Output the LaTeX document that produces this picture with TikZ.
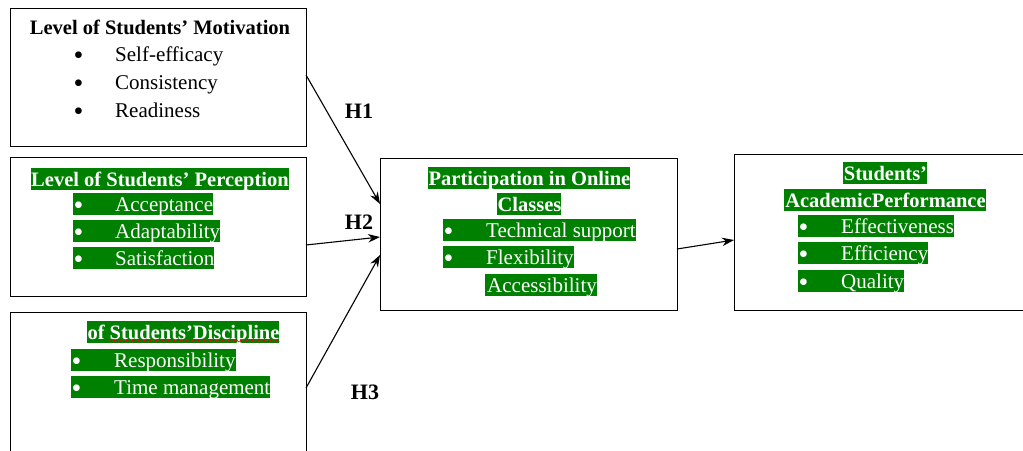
\documentclass[tikz,border=0pt]{standalone}
\usepackage{fontspec}
\setmainfont{Liberation Serif}
\usetikzlibrary{arrows.meta,decorations.pathmorphing}
\definecolor{hlgreen}{RGB}{0,128,0}
\newcommand\mybul{\raisebox{-3.6pt}{\fontsize{28}{24}\selectfont\textbullet}}
\begin{document}
\begin{tikzpicture}[x=1pt,y=-1pt,
  box/.style={draw=black, line width=1.3pt, rectangle, anchor=north west, inner sep=0pt},
  plain/.style={inner sep=0pt, text height=18pt, text depth=4pt, anchor=west, font=\fontsize{21}{24}\selectfont},
  plainb/.style={plain, anchor=center, font=\fontsize{20.5}{24}\selectfont\bfseries},
  hl/.style={fill=hlgreen, text=white, inner sep=0pt, text height=18pt, text depth=4pt, anchor=west, font=\fontsize{21}{24}\selectfont},
  hlb/.style={hl, anchor=center, font=\fontsize{20.5}{24}\selectfont\bfseries},
  arr/.style={line width=1.1pt, -{Stealth[length=12pt,width=8.5pt]}},
  hlab/.style={inner sep=0pt, font=\fontsize{22}{24}\selectfont\bfseries}]
\useasboundingbox (0,0) rectangle (1023,450);
\clip (0,0) rectangle (1023,450);

% boxes
\node[box, minimum width=296pt, minimum height=138pt] (mot) at (10,8) {};
\node[box, minimum width=296pt, minimum height=139pt] (per) at (10,157) {};
\node[box, minimum width=296pt, minimum height=146pt] (dis) at (10,312) {};
\node[box, minimum width=297pt, minimum height=152pt] (par) at (380,158) {};
\node[box, minimum width=300pt, minimum height=156pt] (aca) at (734,154) {};

% motivation
\node[plainb] (motT) at (160,27) {Level of Students’ Motivation};
\node[plain] (mot1) at (73,54) {\makebox[42pt][l]{\hspace{0.5pt}\mybul}Self-efficacy};
\node[plain] (mot2) at (73,82) {\makebox[42pt][l]{\hspace{0.5pt}\mybul}Consistency};
\node[plain] (mot3) at (73,110) {\makebox[42pt][l]{\hspace{0.5pt}\mybul}Readiness};

% perception
\node[hlb] (perT) at (160,179) {Level of Students’ Perception};
\node[hl] (per1) at (73,204) {\makebox[42pt][l]{\hspace{0.5pt}\mybul}Acceptance\hspace{1pt}};
\node[hl] (per2) at (73,231) {\makebox[42pt][l]{\hspace{0.5pt}\mybul}Adaptability\hspace{1pt}};
\node[hl] (per3) at (73,258) {\makebox[42pt][l]{\hspace{0.5pt}\mybul}Satisfaction\hspace{1pt}};

% discipline
\node[hlb] (disT) at (183,332) {\hspace{1pt}of Students’Discipline\hspace{1pt}};
\draw[red, line width=0.6pt, decorate, decoration={snake, amplitude=0.8pt, segment length=3pt}]
  ([xshift=24pt,yshift=2pt]disT.south west) -- ([yshift=2pt]disT.south east);
\node[hl] (dis1) at (71,360) {\makebox[43pt][l]{\hspace{0.5pt}\mybul}Responsibility\hspace{1pt}};
\node[hl] (dis2) at (71,387) {\makebox[43pt][l]{\hspace{0.5pt}\mybul}Time management\hspace{1pt}};

% participation
\node[hlb] (parT1) at (529,178) {\hspace{1pt}Participation in Online\hspace{1pt}};
\node[hlb] (parT2) at (529,204) {\hspace{1pt}Classes\hspace{1pt}};
\node[hl] (par1) at (443,230) {\makebox[43pt][l]{\hspace{0.5pt}\mybul}Technical support\hspace{1pt}};
\node[hl] (par2) at (443,257) {\makebox[43pt][l]{\hspace{0.5pt}\mybul}Flexibility\hspace{1pt}};
\node[hl] (par3) at (485,285) {\hspace{2pt}Accessibility\hspace{1pt}};

% academic performance
\node[hlb] (acaT1) at (885,173) {\hspace{1pt}Students’\hspace{1pt}};
\node[hlb] (acaT2) at (885,200) {\hspace{1pt}AcademicPerformance\hspace{1pt}};
\node[hl] (aca1) at (798,226) {\makebox[43pt][l]{\hspace{0.5pt}\mybul}Effectiveness\hspace{1pt}};
\node[hl] (aca2) at (798,253) {\makebox[43pt][l]{\hspace{0.5pt}\mybul}Efficiency\hspace{1pt}};
\node[hl] (aca3) at (798,281) {\makebox[43pt][l]{\hspace{0.5pt}\mybul}Quality\hspace{1pt}};

% connectors
\coordinate (h1s) at (306,75);
\coordinate (h1e) at (380,204);
\coordinate (h2s) at (306,245);
\coordinate (h2e) at (380,237);
\coordinate (h3s) at (306,388);
\coordinate (h3e) at (380,255);
\coordinate (rs) at (677,249);
\coordinate (re) at (734,240);
\draw[arr] (h1s) -- (h1e);
\draw[arr] (h2s) -- (h2e);
\draw[arr] (h3s) -- (h3e);
\draw[arr] (rs) -- (re);

% labels
\node[hlab] (H1) at (359,111) {H1};
\node[hlab] (H2) at (359,222) {H2};
\node[hlab] (H3) at (365,392) {H3};
\end{tikzpicture}
\end{document}
